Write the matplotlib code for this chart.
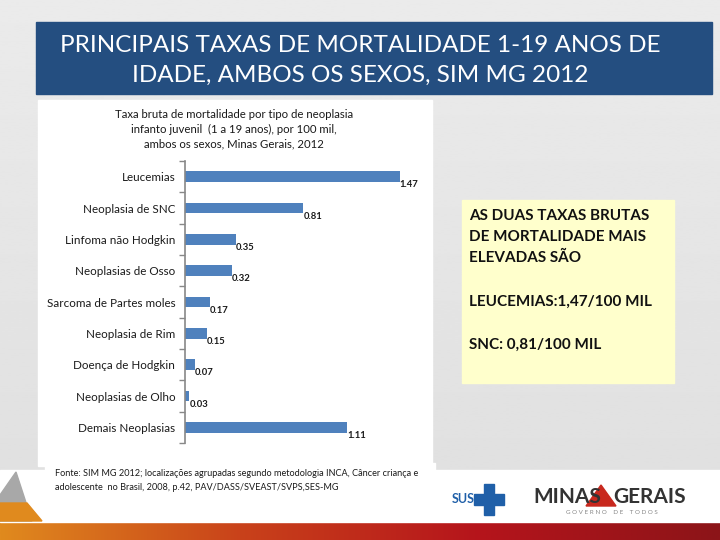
import numpy as np
import matplotlib.pyplot as plt
from matplotlib.patches import Rectangle, Polygon
from matplotlib.colors import LinearSegmentedColormap

categories = ["Leucemias", "Neoplasia de SNC", "Linfoma não Hodgkin", "Neoplasias de Osso",
              "Sarcoma de Partes moles", "Neoplasia de Rim", "Doença de Hodgkin",
              "Neoplasias de Olho", "Demais Neoplasias"]
rates = [1.47, 0.81, 0.35, 0.32, 0.17, 0.15, 0.07, 0.03, 1.11]
value_labels = ["1.47", "0.81", "0.35", "0.32", "0.17", "0.15", "0.07", "0.03", "1.11"]

W, H = 720, 540
plt.rcParams['font.family'] = ['Lato', 'DejaVu Sans']

fig = plt.figure(figsize=(7.2, 5.4), dpi=100)

# background drawn in pixel coords (y goes down)
bg = fig.add_axes([0, 0, 1, 1])
bg.set_xlim(0, W)
bg.set_ylim(H, 0)
bg.axis("off")
grad = np.linspace(0, 1, 256).reshape(-1, 1)
bg.imshow(0.92 - 0.04 * grad, cmap="gray", vmin=0, vmax=1, extent=[0, W, 472, 0], aspect="auto")
# bottom white strip + coloured band
bg.add_patch(Rectangle((0, 470), W, 52, color="white"))
band = np.linspace(0, 1, 256).reshape(1, -1)
cm_band = LinearSegmentedColormap.from_list("band", ["#e08a1e", "#c9421a", "#b5141c", "#8c1418"])
bg.imshow(band, cmap=cm_band, extent=[0, W, 540, 521], aspect="auto")
bg.add_patch(Polygon([(0, 495), (16, 472), (32, 521), (0, 521)], color="#a8a8a8"))
bg.add_patch(Polygon([(0, 503), (27, 503), (42, 521), (0, 521)], color="#e08a1e"))

# title banner
bg.add_patch(Rectangle((36, 22), 676, 72, color="#244e80"))
bg.text(360, 45, "PRINCIPAIS TAXAS DE MORTALIDADE 1-19 ANOS DE", color="white",
        fontsize=17.5, ha="center", va="center")
bg.text(360, 75, "IDADE, AMBOS OS SEXOS, SIM MG 2012", color="white",
        fontsize=17.5, ha="center", va="center")

# chart panel
bg.add_patch(Rectangle((38, 100), 394, 366, color="white"))
bg.text(234, 114, "Taxa bruta de mortalidade por tipo de neoplasia", fontsize=8.2,
        ha="center", va="center", color="#1a1a1a")
bg.text(234, 129, "infanto juvenil  (1 a 19 anos), por 100 mil,", fontsize=8.2,
        ha="center", va="center", color="#1a1a1a")
bg.text(234, 144, "ambos os sexos, Minas Gerais, 2012", fontsize=8.2,
        ha="center", va="center", color="#1a1a1a")

# footer note
bg.add_patch(Rectangle((45, 463), 390, 40, color="white"))
bg.text(55, 474, "Fonte: SIM MG 2012; localizações agrupadas segundo metodologia INCA, Câncer criança e",
        fontsize=6.6, va="center", color="#1a1a1a")
bg.text(55, 487, "adolescente  no Brasil, 2008, p.42, PAV/DASS/SVEAST/SVPS,SES-MG",
        fontsize=6.6, va="center", color="#1a1a1a")

# yellow box
bg.add_patch(Rectangle((462, 200), 212, 183, color="#ffffcc"))
box_lines = [(216, "AS DUAS TAXAS BRUTAS"), (237, "DE MORTALIDADE MAIS"), (258, "ELEVADAS SÃO"),
             (302, "LEUCEMIAS:1,47/100 MIL"), (345, "SNC: 0,81/100 MIL")]
for yy, txt in box_lines:
    bg.text(469, yy, txt, fontsize=11, fontweight="bold", va="center", color="#111111")

# logos
bg.text(452, 499, "SUS", fontsize=9, fontweight="bold", color="#1f5fa8", va="center")
bg.add_patch(Rectangle((484, 484), 10, 31, color="#1f5fa8"))
bg.add_patch(Rectangle((474, 494), 30, 11, color="#1f5fa8"))
bg.text(533, 497, "MINAS", fontsize=15, color="#333333", va="center", fontweight="bold")
bg.add_patch(Polygon([(586, 506), (601, 485), (616, 506)], color="#c8281e"))
bg.text(613, 497, "GERAIS", fontsize=15, color="#333333", va="center", fontweight="bold")
bg.text(612, 512, "G O V E R N O    D E    T O D O S", fontsize=4.5, color="#888888",
        ha="center", va="center")

# bar chart
ax = fig.add_axes([185 / W, 1 - 443 / H, 247 / W, 282 / H])
y = np.arange(len(categories))
ax.barh(y, rates, height=0.35, color="#4f81bd")
ax.set_xlim(0, 247 / 146)
ax.set_ylim(len(categories) - 0.5, -0.5)
ax.set_yticks(y)
ax.set_yticklabels(categories, fontsize=8.4, color="#1a1a1a")
ax.set_yticks(np.arange(len(categories) + 1) - 0.5, minor=True)
ax.tick_params(axis="y", which="major", length=0, pad=7)
ax.tick_params(axis="y", which="minor", length=4, color="#888888", width=1)
ax.set_xticks([])
for s in ["top", "right", "bottom"]:
    ax.spines[s].set_visible(False)
ax.spines["left"].set_color("#888888")
ax.spines["left"].set_linewidth(1.2)
ax.patch.set_alpha(0)
for yi, v, lab in zip(y, rates, value_labels):
    ax.text(v, yi + 0.12, lab, fontsize=6.8, fontweight="bold", va="top", ha="left", color="#1a1a1a")

fig.savefig("out.png", dpi=100)
